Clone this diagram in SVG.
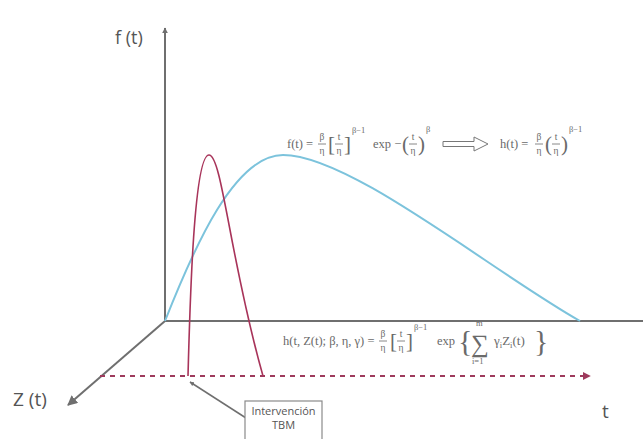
<svg xmlns="http://www.w3.org/2000/svg" width="643" height="439" viewBox="0 0 643 439">
<defs>
<style>
.axis{stroke:#6f6f6f;stroke-width:2;fill:none}
.lbl{font-family:"Open Sans","Liberation Sans",sans-serif;fill:#555}
.fm{font-family:"Liberation Serif","DejaVu Serif",serif;fill:#6a6a6a;font-size:12.5px}
.big{font-family:"Liberation Serif","DejaVu Serif",serif;fill:#6a6a6a;font-size:21px}
.sig{font-family:"Liberation Serif","DejaVu Serif",serif;fill:#6a6a6a;font-size:25px}
.brace{font-family:"Liberation Serif","DejaVu Serif",serif;fill:#6a6a6a;font-size:30px}
.fr{font-family:"Liberation Serif","DejaVu Serif",serif;fill:#6a6a6a;font-size:9.5px;text-anchor:middle}
.sup{font-family:"Liberation Serif","DejaVu Serif",serif;fill:#6a6a6a;font-size:8.5px}
.bar{stroke:#6a6a6a;stroke-width:0.8}
</style>
<marker id="ah" viewBox="0 0 10 10" refX="9" refY="5" markerWidth="5" markerHeight="5" orient="auto"><path d="M0,0 L10,5 L0,10 z" fill="#6f6f6f"/></marker>
<marker id="ahr" viewBox="0 0 10 10" refX="9" refY="5" markerWidth="4" markerHeight="4" orient="auto"><path d="M0,0 L10,5 L0,10 z" fill="#9e3a5c"/></marker>
<marker id="ahs" viewBox="0 0 10 10" refX="9" refY="5" markerWidth="3" markerHeight="3" orient="auto"><path d="M0,0 L10,5 L0,10 z" fill="#6f6f6f"/></marker>
</defs>
<rect width="643" height="439" fill="#ffffff"/>

<g id="connectors">
<line class="axis" x1="165" y1="321" x2="165" y2="28" marker-end="url(#ahs)"/>
<line class="axis" x1="164" y1="321" x2="643" y2="321"/>
<line class="axis" x1="165" y1="321" x2="68" y2="405" marker-end="url(#ah)"/>
<line x1="100" y1="376" x2="590" y2="376" stroke="#9e3a5c" stroke-width="2" stroke-dasharray="5,5" marker-end="url(#ahr)"/>
<line x1="246" y1="418" x2="190" y2="382" stroke="#6f6f6f" stroke-width="1.5" marker-end="url(#ahs)"/>
</g>

<g id="curves">
<path d="M165,321 C195,245 235,155 283,155 C350,155 490,270 580,321" fill="none" stroke="#7cc3dc" stroke-width="2"/>
<path d="M188,376 C190,300 194,155 209,155 C222,155 230,260 263,376" fill="none" stroke="#a8345a" stroke-width="1.6"/>
</g>

<g id="labels">
<text class="lbl" x="115" y="44" font-size="18">f (t)</text>
<text class="lbl" x="13" y="406" font-size="19">Z (t)</text>
<text class="lbl" x="602" y="418" font-size="19">t</text>
</g>

<g id="formula1">
<text class="fm" x="287" y="148">f(t) =</text>
<text class="fr" x="322" y="140">β</text>
<line class="bar" x1="318" y1="144" x2="326" y2="144"/>
<text class="fr" x="322" y="154">η</text>
<text class="big" x="328" y="151">[</text>
<text class="fr" x="339" y="140">t</text>
<line class="bar" x1="335" y1="144" x2="343" y2="144"/>
<text class="fr" x="339" y="154">η</text>
<text class="big" x="344" y="151">]</text>
<text class="sup" x="352" y="133">β−1</text>
<text class="fm" x="373" y="148">exp −</text>
<text class="big" x="402" y="151">(</text>
<text class="fr" x="413" y="140">t</text>
<line class="bar" x1="409" y1="144" x2="417" y2="144"/>
<text class="fr" x="413" y="154">η</text>
<text class="big" x="418" y="151">)</text>
<text class="sup" x="426" y="132">β</text>
<polygon points="443,141.5 474,141.5 474,137 488,144 474,151 474,146.5 443,146.5" fill="#ffffff" stroke="#777" stroke-width="1"/>
<text class="fm" x="500" y="148">h(t) =</text>
<text class="fr" x="539" y="140">β</text>
<line class="bar" x1="535" y1="144" x2="543" y2="144"/>
<text class="fr" x="539" y="154">η</text>
<text class="big" x="545" y="151">(</text>
<text class="fr" x="556" y="140">t</text>
<line class="bar" x1="552" y1="144" x2="560" y2="144"/>
<text class="fr" x="556" y="154">η</text>
<text class="big" x="561" y="151">)</text>
<text class="sup" x="569" y="132">β−1</text>
</g>

<g id="formula2">
<text class="fm" x="283" y="345">h(t, Z(t); β, η, γ) =</text>
<text class="fr" x="383" y="337">β</text>
<line class="bar" x1="379" y1="341" x2="387" y2="341"/>
<text class="fr" x="383" y="351">η</text>
<text class="big" x="390" y="348">[</text>
<text class="fr" x="401" y="337">t</text>
<line class="bar" x1="397" y1="341" x2="405" y2="341"/>
<text class="fr" x="401" y="351">η</text>
<text class="big" x="406" y="348">]</text>
<text class="sup" x="414" y="330">β−1</text>
<text class="fm" x="437" y="345">exp</text>
<text class="brace" x="458" y="351">{</text>
<text class="sig" x="471" y="352">∑</text>
<text class="sup" x="476" y="326">m</text>
<text class="sup" x="472" y="364">i=1</text>
<text class="fm" x="494" y="345" style="font-size:13px">γ<tspan style="font-size:8.5px" dy="3">i</tspan><tspan dy="-3">Z</tspan><tspan style="font-size:8.5px" dy="3">i</tspan><tspan dy="-3">(t)</tspan></text>
<text class="brace" x="534" y="351">}</text>
</g>

<g id="tbm">
<rect x="245" y="401" width="77" height="46" fill="#ffffff" stroke="#8a8a8a" stroke-width="1.2"/>
<text class="lbl" x="283.5" y="415" font-size="11" text-anchor="middle">Intervención</text>
<text class="lbl" x="283.5" y="429" font-size="11" text-anchor="middle">TBM</text>
</g>
</svg>
